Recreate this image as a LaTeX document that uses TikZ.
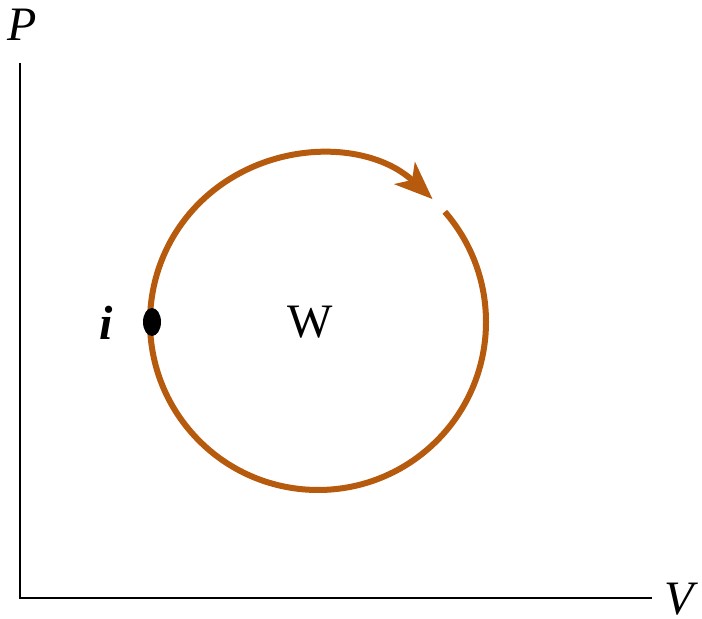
\documentclass[tikz,border=0pt]{standalone}
\usepackage{fontspec}
\setmainfont{Liberation Serif}
\usetikzlibrary{arrows.meta,positioning}
\definecolor{cyc}{RGB}{182,90,14}
\tikzset{ax/.style={line width=1.4pt},lbl/.style={font=\fontsize{24}{28}\selectfont,inner sep=0pt},
cyl/.style={cyc,line width=3pt,-{Stealth[length=19pt,width=15pt,inset=5pt]}}}

\begin{document}
\begin{tikzpicture}[x=0.5pt,y=0.5pt]
\useasboundingbox(0,0)rectangle(702,619);
\coordinate(O)at(20,21);\coordinate(Ptop)at(20,556);\coordinate(Vend)at(652,21);
\draw[ax](Ptop)--(O)--(Vend);
\node[lbl](P)at(22,594){\itshape P};\node[lbl](V)at(679,20){\itshape V};
\coordinate(C)at(318,297);
\draw[cyl]([shift={(41:168)}]C)arc[start angle=41,end angle=-313,radius=168];
\fill(152,297)ellipse[x radius=9,y radius=14];
\node[lbl](i)at(106,296){\bfseries\itshape i};\node[lbl](W)at(310,297){W};
\end{tikzpicture}
\end{document}
